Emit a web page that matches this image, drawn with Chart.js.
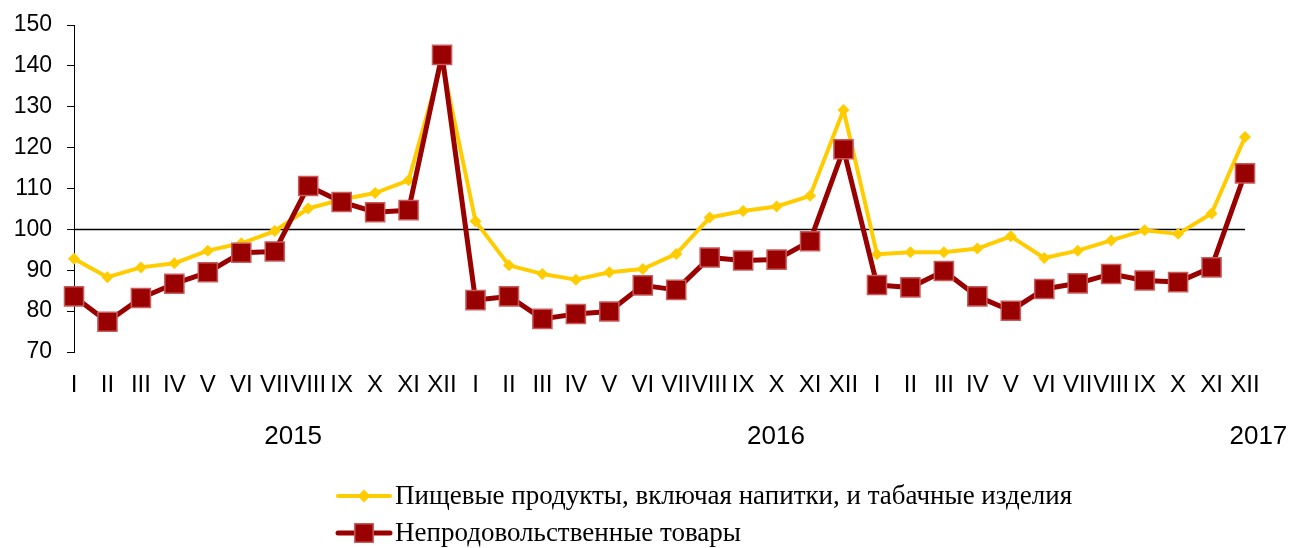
<!DOCTYPE html>
<html>
<head>
<meta charset="utf-8">
<script src="https://cdn.jsdelivr.net/npm/chart.js@4.4.1/dist/chart.umd.min.js"></script>
<style>
  html, body { margin: 0; padding: 0; background: #fff; }
  #wrap { width: 1292px; height: 548px; position: relative; }
</style>
</head>
<body>
<div id="wrap"><canvas id="chart" width="1292" height="548"></canvas></div>
<script>
const months = ["I","II","III","IV","V","VI","VII","VIII","IX","X","XI","XII"];
const monthLabels = months.concat(months, months);
const years = ["2015", "2016", "2017"];
const yearIndex = [6.55, 20.98, 35.4]; // category position where year text sits

const foodValues = [
  92.8, 88.3, 90.7, 91.7, 94.8, 96.6, 99.6, 105.1, 107.3, 108.9, 112.0, 141.0,
  102.0, 91.2, 89.1, 87.7, 89.5, 90.3, 94.0, 102.9, 104.5, 105.6, 108.2, 129.2,
  93.9, 94.4, 94.4, 95.3, 98.3, 93.0, 94.8, 97.3, 99.8, 98.9, 103.9, 122.6
];
const nonFoodValues = [
  83.6, 77.4, 83.2, 86.7, 89.5, 94.3, 94.6, 110.6, 106.7, 104.2, 104.7, 142.7,
  82.7, 83.6, 78.1, 79.3, 79.9, 86.3, 85.2, 93.1, 92.4, 92.6, 97.1, 119.6,
  86.4, 85.8, 89.8, 83.6, 80.1, 85.4, 86.8, 89.1, 87.5, 87.1, 90.7, 113.7
];
const seriesNames = [
  "Пищевые продукты, включая напитки, и табачные изделия",
  "Непродовольственные товары"
];
const baseLine = 100;

const YELLOW = "#FFCC00";
const RED = "#990000";
const RED_EDGE = "#C85A5A";
const SANS = "'Liberation Sans', Arial, sans-serif";
const SERIF = "'Liberation Serif', 'Times New Roman', serif";

// horizontal line at 100 (category axis crossing)
const baseLinePlugin = {
  id: "baseLine",
  beforeDatasetsDraw(chart) {
    const { ctx, chartArea, scales } = chart;
    const y = Math.round(scales.y.getPixelForValue(baseLine)) + 0.5;
    ctx.save();
    ctx.strokeStyle = "#000";
    ctx.lineWidth = 1.3;
    ctx.beginPath();
    ctx.moveTo(chartArea.left, y);
    ctx.lineTo(chartArea.right, y);
    ctx.stroke();
    ctx.restore();
  }
};

// year captions under the month labels
const yearPlugin = {
  id: "years",
  afterDraw(chart) {
    const { ctx, scales } = chart;
    ctx.save();
    ctx.fillStyle = "#000";
    ctx.font = "26px " + SANS;
    ctx.textAlign = "center";
    ctx.textBaseline = "middle";
    years.forEach((yr, i) => {
      ctx.fillText(yr, scales.x.getPixelForValue(yearIndex[i]), 437);
    });
    ctx.restore();
  }
};

// legend stacked, left aligned, below the chart
const legendPlugin = {
  id: "stackLegend",
  afterDraw(chart) {
    const { ctx } = chart;
    const rows = [496, 533];
    ctx.save();
    chart.data.datasets.slice().sort((a, b) => a.legendRow - b.legendRow).forEach((ds, i) => {
      const y = rows[i];
      ctx.strokeStyle = ds.borderColor;
      ctx.lineWidth = ds.borderWidth;
      ctx.lineCap = "round";
      ctx.beginPath();
      ctx.moveTo(338, y);
      ctx.lineTo(390, y);
      ctx.stroke();
      ctx.fillStyle = ds.pointBackgroundColor;
      ctx.strokeStyle = ds.pointBorderColor;
      ctx.lineWidth = ds.pointBorderWidth;
      ctx.beginPath();
      if (ds.pointStyle === "rect") {
        const s = ds.legendRadius * Math.SQRT1_2;
        ctx.rect(364 - s, y - s, 2 * s, 2 * s);
      } else {
        const r = ds.legendRadius;
        ctx.moveTo(364 - r, y);
        ctx.lineTo(364, y - r);
        ctx.lineTo(364 + r, y);
        ctx.lineTo(364, y + r);
        ctx.closePath();
      }
      ctx.fill();
      if (ds.pointBorderWidth) ctx.stroke();
      ctx.fillStyle = "#000";
      ctx.font = "27px " + SERIF;
      ctx.textAlign = "left";
      ctx.textBaseline = "middle";
      ctx.fillText(ds.label, 395, y + 1);
    });
    ctx.restore();
  }
};

new Chart(document.getElementById("chart"), {
  type: "line",
  data: {
    labels: monthLabels,
    datasets: [
      {
        label: seriesNames[1],
        data: nonFoodValues,
        borderColor: RED,
        backgroundColor: RED,
        borderWidth: 5,
        borderJoinStyle: "round",
        pointStyle: "rect",
        pointRadius: 13.5,
        pointBackgroundColor: RED,
        pointBorderColor: RED_EDGE,
        pointBorderWidth: 1.5,
        legendRadius: 13,
        legendRow: 2,
        order: 0,
        tension: 0
      },
      {
        label: seriesNames[0],
        data: foodValues,
        borderColor: YELLOW,
        backgroundColor: YELLOW,
        borderWidth: 4,
        borderJoinStyle: "round",
        pointStyle: "rectRot",
        pointRadius: 6,
        pointBackgroundColor: YELLOW,
        pointBorderColor: YELLOW,
        pointBorderWidth: 0,
        legendRadius: 6.5,
        legendRow: 1,
        order: 1,
        tension: 0
      }
    ]
  },
  options: {
    responsive: false,
    animation: false,
    layout: { autoPadding: false, padding: { left: 0, right: 47, top: 25, bottom: 0 } },
    plugins: {
      legend: { display: false },
      tooltip: { enabled: false }
    },
    scales: {
      x: {
        offset: false,
        grid: { display: false },
        border: { display: false },
        ticks: {
          autoSkip: false,
          maxRotation: 0,
          minRotation: 0,
          padding: 11,
          color: "#000",
          font: { family: SANS, size: 24 }
        },
        afterFit(scale) { scale.height = 196; }
      },
      y: {
        min: 70,
        max: 150,
        grid: { drawOnChartArea: false, drawTicks: true, tickLength: 7, color: "#000", lineWidth: 1 },
        border: { display: true, color: "#000", width: 1 },
        ticks: {
          stepSize: 10,
          padding: 15,
          color: "#000",
          font: { family: SANS, size: 23 }
        },
        afterFit(scale) {
          scale.width = 74;
          scale.paddingTop = 0;
          scale.paddingBottom = 0;
        }
      }
    }
  },
  plugins: [baseLinePlugin, yearPlugin, legendPlugin]
});
</script>
</body>
</html>
